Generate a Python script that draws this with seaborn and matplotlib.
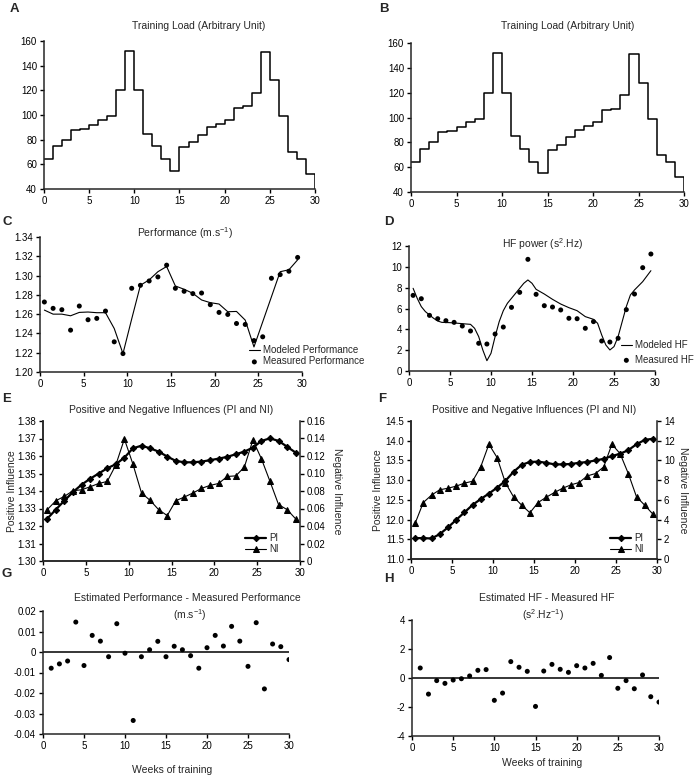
import numpy as np
import matplotlib
matplotlib.use("Agg")
import matplotlib.pyplot as plt
import seaborn as sns

# ---- data ----
load_edges = list(range(31))
training_load = [64, 75, 80, 88, 89, 92, 96, 99, 120, 152, 120, 85, 75, 64, 55,
                 74, 78, 84, 90, 93, 96, 106, 107, 118, 151, 128, 99, 70, 64, 52]

half_weeks = np.arange(0.5, 30, 1.0)
perf_measured = [1.2726, 1.2660, 1.2646, 1.2434, 1.2684, 1.2542, 1.2556, 1.2632, 1.2313, 1.2191,
                 1.2868, 1.2899, 1.2944, 1.2986, 1.3108, 1.2868, 1.2837, 1.2813, 1.2819, 1.2698,
                 1.2618, 1.2597, 1.2503, 1.2493, 1.2326, 1.2365, 1.2972, 1.3010, 1.3045, 1.3188]
perf_modeled = [1.2642, 1.2600, 1.2600, 1.2583, 1.2618, 1.2622, 1.2615, 1.2615, 1.2451, 1.2191,
                1.2550, 1.2900, 1.2955, 1.3040, 1.3094, 1.2892, 1.2858, 1.2816, 1.2747, 1.2719,
                1.2705, 1.2625, 1.2628, 1.2538, 1.2260, 1.2520, 1.2780, 1.3040, 1.3060, 1.3163]

hf_measured = [7.26, 6.94, 5.34, 5.02, 4.83, 4.67, 4.32, 3.84, 2.66, 2.59,
               3.55, 4.22, 6.11, 7.55, 10.72, 7.36, 6.27, 6.14, 5.86, 5.06,
               5.02, 4.10, 4.74, 2.88, 2.78, 3.14, 5.89, 7.39, 9.92, 11.23]
hf_model_x = [0.5, 1.0, 1.5, 2.0, 2.5, 3.0, 3.5, 4.0, 5.0, 6.0, 7.0, 7.5, 8.0, 8.5, 9.0, 9.5,
              10.0, 10.5, 11.0, 11.5, 12.0, 12.5, 13.0, 13.5, 14.0, 14.5, 15.0, 15.5, 16.5,
              17.5, 18.5, 19.5, 20.5, 21.5, 22.5, 23.0, 23.5, 24.0, 24.5, 25.0, 25.5, 26.0,
              26.5, 27.0, 27.5, 28.5, 29.5]
hf_model_y = [7.94, 6.98, 6.18, 5.70, 5.38, 5.06, 4.80, 4.67, 4.64, 4.58, 4.51, 4.48, 4.10, 3.30,
              2.02, 0.99, 1.70, 3.30, 4.74, 5.79, 6.50, 6.98, 7.46, 7.94, 8.42, 8.74, 8.42, 7.84,
              7.39, 6.88, 6.43, 6.08, 5.79, 5.22, 4.96, 4.58, 3.46, 2.50, 2.02, 2.34, 3.30, 4.74,
              6.18, 7.30, 7.78, 8.58, 9.63]

pi_perf = [1.3242, 1.3294, 1.3345, 1.3394, 1.3436, 1.3470, 1.3500, 1.3530, 1.3553, 1.3591,
           1.3644, 1.3659, 1.3644, 1.3625, 1.3597, 1.3572, 1.3564, 1.3564, 1.3568, 1.3576,
           1.3585, 1.3595, 1.3610, 1.3625, 1.3648, 1.3686, 1.3701, 1.3686, 1.3653, 1.3619]
ni_perf = [0.0587, 0.0689, 0.0739, 0.0803, 0.0814, 0.0848, 0.0886, 0.0909, 0.1098, 0.1394,
           0.1106, 0.0777, 0.0693, 0.0587, 0.0519, 0.0689, 0.0731, 0.0777, 0.0830, 0.0864,
           0.0886, 0.0966, 0.0973, 0.1072, 0.1383, 0.1167, 0.0909, 0.0644, 0.0587, 0.0481]

pi_hf = [11.53, 11.53, 11.52, 11.63, 11.80, 11.99, 12.18, 12.37, 12.52, 12.66,
         12.81, 12.98, 13.21, 13.39, 13.46, 13.47, 13.44, 13.40, 13.40, 13.41,
         13.44, 13.46, 13.50, 13.54, 13.61, 13.67, 13.76, 13.91, 14.02, 14.05]
ni_hf = [3.61, 5.73, 6.48, 7.02, 7.18, 7.39, 7.69, 7.89, 9.34, 11.64,
         10.29, 7.76, 6.31, 5.46, 4.69, 5.73, 6.27, 6.75, 7.18, 7.52,
         7.76, 8.43, 8.67, 9.34, 11.64, 10.69, 8.67, 6.31, 5.46, 4.55]

weeks = list(range(1, 31))
perf_resid = [-0.0079, -0.0058, -0.0044, 0.0146, -0.0066, 0.0081, 0.0053, -0.0023, 0.0138, -0.0006,
              -0.0334, -0.0023, 0.0011, 0.0052, -0.0023, 0.0028, 0.0011, -0.0018, -0.0079, 0.0021,
              0.0081, 0.0029, 0.0125, 0.0053, -0.0070, 0.0143, -0.0180, 0.0039, 0.0026, -0.0037]
hf_resid = [0.69, -1.11, -0.18, -0.37, -0.14, -0.05, 0.14, 0.53, 0.58, -1.54,
            -1.04, 1.13, 0.74, 0.46, -1.96, 0.48, 0.94, 0.60, 0.39, 0.85,
            0.69, 1.01, 0.18, 1.41, -0.71, -0.18, -0.74, 0.21, -1.29, -1.66]

# ---- style ----
sns.set_theme(style="ticks")
plt.rcParams["font.family"] = ["Liberation Sans", "DejaVu Sans"]
plt.rcParams["mathtext.fontset"] = "custom"
plt.rcParams["mathtext.rm"] = "Liberation Sans"
plt.rcParams["mathtext.it"] = "Liberation Sans:italic"
plt.rcParams["axes.unicode_minus"] = False
plt.rcParams["xtick.labelsize"] = 7
plt.rcParams["ytick.labelsize"] = 7
plt.rcParams["xtick.major.size"] = 3
plt.rcParams["ytick.major.size"] = 3
plt.rcParams["xtick.major.pad"] = 2
plt.rcParams["ytick.major.pad"] = 2
plt.rcParams["axes.linewidth"] = 1.1

W, H = 700, 779
fig = plt.figure(figsize=(7, 7.79), dpi=100)
fig.patch.set_facecolor("white")


def make_axes(x0, y0, x1, y1):
    ax = fig.add_axes([x0 / W, 1 - y1 / H, (x1 - x0) / W, (y1 - y0) / H])
    sns.despine(ax=ax)
    ax.tick_params(colors="black", width=1.0)
    ax.set_xlim(0, 30)
    ax.set_xticks(range(0, 31, 5))
    return ax


def ftext(x, y, s, **kw):
    fig.text(x / W, 1 - y / H, s, ha=kw.pop("ha", "center"), va=kw.pop("va", "center"), **kw)


TITLE = 7.5
LETTER = 9.5

# ---- A and B: training load ----
for (x0, y0, x1, y1), letter, lx, tx in [((44, 41, 315, 189), "A", 14, 199),
                                        ((411, 43, 684, 192), "B", 384, 568)]:
    ax = make_axes(x0, y0, x1, y1)
    sns.lineplot(x=load_edges, y=training_load + [training_load[-1]], drawstyle="steps-post",
                 color="black", lw=1.1, ax=ax)
    ax.vlines(30, 40, training_load[-1], color="black", lw=1.1)
    ax.set_ylim(40, 160)
    ax.set_yticks(range(40, 161, 20))
    ftext(lx, 9, letter, fontsize=LETTER, fontweight="bold")
    ftext(tx, 26, "Training Load (Arbitrary Unit)", fontsize=TITLE)

# ---- C: performance ----
ax = make_axes(40, 237, 302, 372)
sns.lineplot(x=half_weeks, y=perf_modeled, color="black", lw=0.8, ax=ax, label="Modeled Performance")
sns.scatterplot(x=half_weeks, y=perf_measured, color="black", s=13, edgecolor="none", ax=ax,
                label="Measured Performance")
ax.set_ylim(1.20, 1.34)
yt = [1.20, 1.22, 1.24, 1.26, 1.28, 1.30, 1.32, 1.34]
ax.set_yticks(yt)
ax.set_yticklabels([f"{v:.2f}" for v in yt])
ax.legend(loc="upper left", bbox_to_anchor=(249 / W, 1 - 345 / H), bbox_transform=fig.transFigure,
          frameon=False, fontsize=7, handlelength=1.1, handletextpad=0.3, labelspacing=0.15,
          borderpad=0, borderaxespad=0)
ftext(7, 222, "C", fontsize=LETTER, fontweight="bold")
ftext(185, 233, "Performance (m.s$^{-1}$)", fontsize=TITLE)

# ---- D: HF power ----
ax = make_axes(409, 246, 655, 371)
sns.lineplot(x=hf_model_x, y=hf_model_y, color="black", lw=0.8, ax=ax, label="Modeled HF")
sns.scatterplot(x=half_weeks, y=hf_measured, color="black", s=13, edgecolor="none", ax=ax,
                label="Measured HF")
ax.set_ylim(0, 12)
ax.set_yticks(range(0, 13, 2))
ax.legend(loc="upper left", bbox_to_anchor=(621 / W, 1 - 340 / H), bbox_transform=fig.transFigure,
          frameon=False, fontsize=7, handlelength=1.1, handletextpad=0.3, labelspacing=0.5,
          borderpad=0, borderaxespad=0)
ftext(389, 222, "D", fontsize=LETTER, fontweight="bold")
ftext(543, 244, "HF power (s$^{2}$.Hz)", fontsize=TITLE)

# ---- E and F: positive and negative influences ----
panels = [((43, 421, 300, 561), pi_perf, ni_perf, (1.30, 1.38), np.round(np.arange(1.30, 1.381, 0.01), 2),
           "{:.2f}", (0, 0.16), np.round(np.arange(0, 0.161, 0.02), 2), "{:.2f}",
           "E", 7, 171, 12, 337, (245, 533)),
          ((411, 421, 657, 559), pi_hf, ni_hf, (11.0, 14.5), np.arange(11.0, 14.51, 0.5),
           "{:.1f}", (0, 14), np.arange(0, 15, 2), "{:.0f}",
           "F", 382, 534, 378, 683, (610, 533))]
for (box, pi, ni, ylim1, yt1, fmt1, ylim2, yt2, fmt2, letter, lx, tx, ylx, yrx, legpos) in panels:
    ax = make_axes(*box)
    ax2 = ax.twinx()
    ax2.spines["top"].set_visible(False)
    ax2.spines["right"].set_visible(True)
    ax2.tick_params(colors="black", width=1.0)
    sns.lineplot(x=half_weeks, y=pi, color="black", lw=1.6, marker="D", markersize=3.2,
                 markeredgecolor="black", ax=ax, label="PI")
    sns.lineplot(x=half_weeks, y=ni, color="black", lw=0.8, marker="^", markersize=4,
                 markeredgecolor="black", ax=ax2, label="NI")
    ax.set_xlim(0, 30)
    ax.set_ylim(*ylim1)
    ax.set_yticks(yt1)
    ax.set_yticklabels([fmt1.format(v) for v in yt1])
    ax2.set_ylim(*ylim2)
    ax2.set_yticks(yt2)
    ax2.set_yticklabels(["0"] + [fmt2.format(v) for v in yt2[1:]])
    if ax.get_legend() is not None:
        ax.get_legend().remove()
    h1, l1 = ax.get_legend_handles_labels()
    h2, l2 = ax2.get_legend_handles_labels()
    ax2.legend(h1 + h2, l1 + l2, loc="upper left", bbox_to_anchor=(legpos[0] / W, 1 - legpos[1] / H),
               bbox_transform=fig.transFigure, frameon=False, fontsize=7, handlelength=2.2,
               handletextpad=0.3, labelspacing=0.1, borderpad=0, borderaxespad=0)
    ftext(lx, 399, letter, fontsize=LETTER, fontweight="bold")
    ftext(tx, 410, "Positive and Negative Influences (PI and NI)", fontsize=TITLE)
    ftext(ylx, (box[1] + box[3]) / 2, "Positive Influence", fontsize=TITLE, rotation=90)
    ftext(yrx, (box[1] + box[3]) / 2, "Negative Influence", fontsize=TITLE, rotation=270)

# ---- G: performance residuals ----
ax = make_axes(43, 611, 289, 734)
ax.axhline(0, color="black", lw=1.1)
sns.scatterplot(x=weeks, y=perf_resid, color="black", s=13, edgecolor="none", ax=ax)
ax.set_ylim(-0.04, 0.02)
yt = [-0.04, -0.03, -0.02, -0.01, 0, 0.01, 0.02]
ax.set_yticks(yt)
ax.set_yticklabels(["-0.04", "-0.03", "-0.02", "-0.01", "0", "0.01", "0.02"])
ftext(7, 574, "G", fontsize=LETTER, fontweight="bold")
ftext(187, 598, "Estimated Performance - Measured Performance", fontsize=TITLE)
ftext(190, 615, "(m.s$^{-1}$)", fontsize=TITLE)
ftext(172, 770, "Weeks of training", fontsize=TITLE)

# ---- H: HF residuals ----
ax = make_axes(412, 620, 659, 736)
ax.axhline(0, color="black", lw=1.1)
sns.scatterplot(x=weeks, y=hf_resid, color="black", s=13, edgecolor="none", ax=ax)
ax.set_ylim(-4, 4)
ax.set_yticks(range(-4, 5, 2))
ftext(389, 579, "H", fontsize=LETTER, fontweight="bold")
ftext(547, 598, "Estimated HF - Measured HF", fontsize=TITLE)
ftext(543, 615, "(s$^{2}$.Hz$^{-1}$)", fontsize=TITLE)
ftext(542, 763, "Weeks of training", fontsize=TITLE)

fig.savefig("out.png", dpi=100, facecolor="white")
